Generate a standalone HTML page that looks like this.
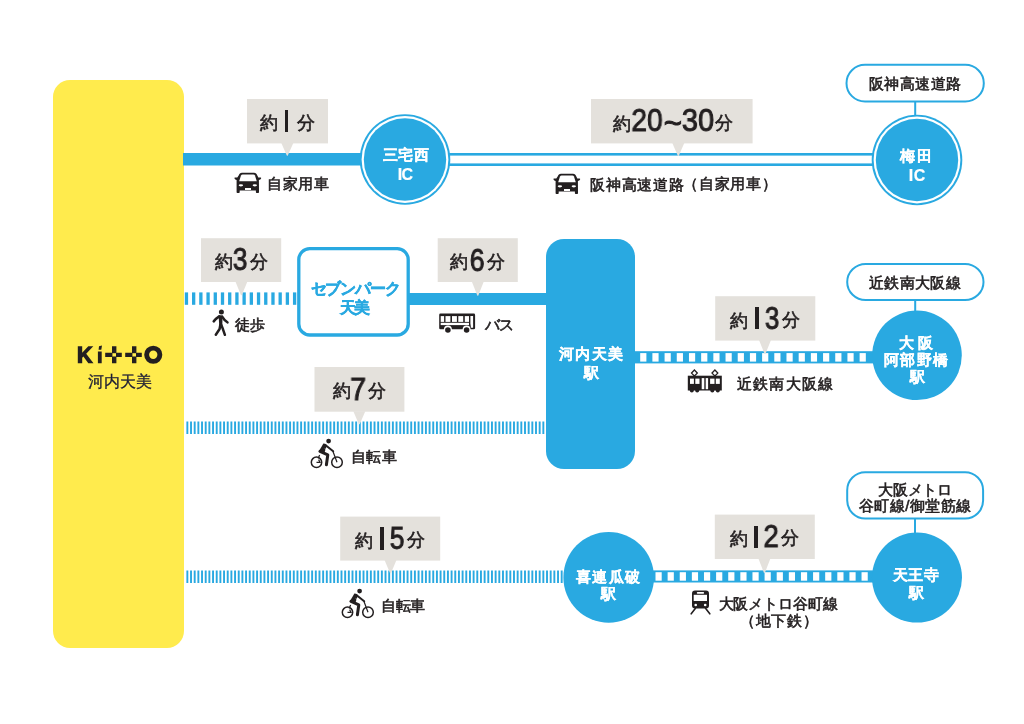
<!DOCTYPE html>
<html lang="ja"><head><meta charset="utf-8"><title>Kitto 河内天美 アクセス</title>
<style>
html,body{margin:0;padding:0;background:#fff;}
body{width:1024px;height:724px;position:relative;overflow:hidden;font-family:"Liberation Sans",sans-serif;}
.t{position:absolute;white-space:nowrap;text-align:center;will-change:transform;}
.ic{position:absolute;}
</style></head><body>
<svg style="position:absolute;left:0;top:0" width="1024" height="724" viewBox="0 0 1024 724">
<rect x="53" y="80" width="131" height="568" rx="17" fill="#ffeb4d"/>
<rect x="183" y="153" width="182" height="12.5" fill="#29a9e1"/>
<rect x="445" y="153" width="430" height="13" fill="#29a9e1"/>
<rect x="445" y="155.6" width="430" height="7.8" fill="#fff"/>
<circle cx="405" cy="159.5" r="45.3" fill="#29a9e1"/>
<circle cx="405" cy="159.5" r="43.4" fill="#fff"/>
<circle cx="405" cy="159.5" r="41.2" fill="#29a9e1"/>
<circle cx="917" cy="160" r="45.3" fill="#29a9e1"/>
<circle cx="917" cy="160" r="43.4" fill="#fff"/>
<circle cx="917" cy="160" r="41.2" fill="#29a9e1"/>
<rect x="846.5" y="64.8" width="137.29999999999995" height="36.7" rx="18.5" fill="#fff" stroke="#29a9e1" stroke-width="2"/>
<rect x="914.2" y="102" width="2" height="14" fill="#29a9e1"/>
<rect x="184.80" y="292.4" width="3.3" height="12.4" fill="#29a9e1"/>
<rect x="192.01" y="292.4" width="3.3" height="12.4" fill="#29a9e1"/>
<rect x="199.22" y="292.4" width="3.3" height="12.4" fill="#29a9e1"/>
<rect x="206.43" y="292.4" width="3.3" height="12.4" fill="#29a9e1"/>
<rect x="213.64" y="292.4" width="3.3" height="12.4" fill="#29a9e1"/>
<rect x="220.85" y="292.4" width="3.3" height="12.4" fill="#29a9e1"/>
<rect x="228.06" y="292.4" width="3.3" height="12.4" fill="#29a9e1"/>
<rect x="235.27" y="292.4" width="3.3" height="12.4" fill="#29a9e1"/>
<rect x="242.48" y="292.4" width="3.3" height="12.4" fill="#29a9e1"/>
<rect x="249.69" y="292.4" width="3.3" height="12.4" fill="#29a9e1"/>
<rect x="256.90" y="292.4" width="3.3" height="12.4" fill="#29a9e1"/>
<rect x="264.11" y="292.4" width="3.3" height="12.4" fill="#29a9e1"/>
<rect x="271.32" y="292.4" width="3.3" height="12.4" fill="#29a9e1"/>
<rect x="278.53" y="292.4" width="3.3" height="12.4" fill="#29a9e1"/>
<rect x="285.74" y="292.4" width="3.3" height="12.4" fill="#29a9e1"/>
<rect x="292.95" y="292.4" width="3.3" height="12.4" fill="#29a9e1"/>
<rect x="298.8" y="248.6" width="109.4" height="86.4" rx="11" fill="#fff" stroke="#29a9e1" stroke-width="3.3"/>
<rect x="409" y="293" width="140" height="12" fill="#29a9e1"/>
<rect x="546" y="239" width="89" height="230" rx="18" fill="#29a9e1"/>
<rect x="634" y="351.2" width="240" height="12.2" fill="#29a9e1"/>
<rect x="640.20" y="353.1" width="6.2" height="8.5" fill="#fff"/>
<rect x="652.39" y="353.1" width="6.2" height="8.5" fill="#fff"/>
<rect x="664.58" y="353.1" width="6.2" height="8.5" fill="#fff"/>
<rect x="676.77" y="353.1" width="6.2" height="8.5" fill="#fff"/>
<rect x="688.96" y="353.1" width="6.2" height="8.5" fill="#fff"/>
<rect x="701.15" y="353.1" width="6.2" height="8.5" fill="#fff"/>
<rect x="713.34" y="353.1" width="6.2" height="8.5" fill="#fff"/>
<rect x="725.53" y="353.1" width="6.2" height="8.5" fill="#fff"/>
<rect x="737.72" y="353.1" width="6.2" height="8.5" fill="#fff"/>
<rect x="749.91" y="353.1" width="6.2" height="8.5" fill="#fff"/>
<rect x="762.10" y="353.1" width="6.2" height="8.5" fill="#fff"/>
<rect x="774.29" y="353.1" width="6.2" height="8.5" fill="#fff"/>
<rect x="786.48" y="353.1" width="6.2" height="8.5" fill="#fff"/>
<rect x="798.67" y="353.1" width="6.2" height="8.5" fill="#fff"/>
<rect x="810.86" y="353.1" width="6.2" height="8.5" fill="#fff"/>
<rect x="823.05" y="353.1" width="6.2" height="8.5" fill="#fff"/>
<rect x="835.24" y="353.1" width="6.2" height="8.5" fill="#fff"/>
<rect x="847.43" y="353.1" width="6.2" height="8.5" fill="#fff"/>
<rect x="859.62" y="353.1" width="6.2" height="8.5" fill="#fff"/>
<circle cx="917" cy="355.3" r="44.8" fill="#29a9e1"/>
<rect x="847.2" y="263.9" width="136.29999999999995" height="36.200000000000045" rx="18.5" fill="#fff" stroke="#29a9e1" stroke-width="2"/>
<rect x="914.2" y="300" width="2" height="12" fill="#29a9e1"/>
<rect x="186.40" y="421.5" width="1.9" height="12.5" fill="#29a9e1"/>
<rect x="190.07" y="421.5" width="1.9" height="12.5" fill="#29a9e1"/>
<rect x="193.74" y="421.5" width="1.9" height="12.5" fill="#29a9e1"/>
<rect x="197.41" y="421.5" width="1.9" height="12.5" fill="#29a9e1"/>
<rect x="201.08" y="421.5" width="1.9" height="12.5" fill="#29a9e1"/>
<rect x="204.75" y="421.5" width="1.9" height="12.5" fill="#29a9e1"/>
<rect x="208.42" y="421.5" width="1.9" height="12.5" fill="#29a9e1"/>
<rect x="212.09" y="421.5" width="1.9" height="12.5" fill="#29a9e1"/>
<rect x="215.76" y="421.5" width="1.9" height="12.5" fill="#29a9e1"/>
<rect x="219.43" y="421.5" width="1.9" height="12.5" fill="#29a9e1"/>
<rect x="223.10" y="421.5" width="1.9" height="12.5" fill="#29a9e1"/>
<rect x="226.77" y="421.5" width="1.9" height="12.5" fill="#29a9e1"/>
<rect x="230.44" y="421.5" width="1.9" height="12.5" fill="#29a9e1"/>
<rect x="234.11" y="421.5" width="1.9" height="12.5" fill="#29a9e1"/>
<rect x="237.78" y="421.5" width="1.9" height="12.5" fill="#29a9e1"/>
<rect x="241.45" y="421.5" width="1.9" height="12.5" fill="#29a9e1"/>
<rect x="245.12" y="421.5" width="1.9" height="12.5" fill="#29a9e1"/>
<rect x="248.79" y="421.5" width="1.9" height="12.5" fill="#29a9e1"/>
<rect x="252.46" y="421.5" width="1.9" height="12.5" fill="#29a9e1"/>
<rect x="256.13" y="421.5" width="1.9" height="12.5" fill="#29a9e1"/>
<rect x="259.80" y="421.5" width="1.9" height="12.5" fill="#29a9e1"/>
<rect x="263.47" y="421.5" width="1.9" height="12.5" fill="#29a9e1"/>
<rect x="267.14" y="421.5" width="1.9" height="12.5" fill="#29a9e1"/>
<rect x="270.81" y="421.5" width="1.9" height="12.5" fill="#29a9e1"/>
<rect x="274.48" y="421.5" width="1.9" height="12.5" fill="#29a9e1"/>
<rect x="278.15" y="421.5" width="1.9" height="12.5" fill="#29a9e1"/>
<rect x="281.82" y="421.5" width="1.9" height="12.5" fill="#29a9e1"/>
<rect x="285.49" y="421.5" width="1.9" height="12.5" fill="#29a9e1"/>
<rect x="289.16" y="421.5" width="1.9" height="12.5" fill="#29a9e1"/>
<rect x="292.83" y="421.5" width="1.9" height="12.5" fill="#29a9e1"/>
<rect x="296.50" y="421.5" width="1.9" height="12.5" fill="#29a9e1"/>
<rect x="300.17" y="421.5" width="1.9" height="12.5" fill="#29a9e1"/>
<rect x="303.84" y="421.5" width="1.9" height="12.5" fill="#29a9e1"/>
<rect x="307.51" y="421.5" width="1.9" height="12.5" fill="#29a9e1"/>
<rect x="311.18" y="421.5" width="1.9" height="12.5" fill="#29a9e1"/>
<rect x="314.85" y="421.5" width="1.9" height="12.5" fill="#29a9e1"/>
<rect x="318.52" y="421.5" width="1.9" height="12.5" fill="#29a9e1"/>
<rect x="322.19" y="421.5" width="1.9" height="12.5" fill="#29a9e1"/>
<rect x="325.86" y="421.5" width="1.9" height="12.5" fill="#29a9e1"/>
<rect x="329.53" y="421.5" width="1.9" height="12.5" fill="#29a9e1"/>
<rect x="333.20" y="421.5" width="1.9" height="12.5" fill="#29a9e1"/>
<rect x="336.87" y="421.5" width="1.9" height="12.5" fill="#29a9e1"/>
<rect x="340.54" y="421.5" width="1.9" height="12.5" fill="#29a9e1"/>
<rect x="344.21" y="421.5" width="1.9" height="12.5" fill="#29a9e1"/>
<rect x="347.88" y="421.5" width="1.9" height="12.5" fill="#29a9e1"/>
<rect x="351.55" y="421.5" width="1.9" height="12.5" fill="#29a9e1"/>
<rect x="355.22" y="421.5" width="1.9" height="12.5" fill="#29a9e1"/>
<rect x="358.89" y="421.5" width="1.9" height="12.5" fill="#29a9e1"/>
<rect x="362.56" y="421.5" width="1.9" height="12.5" fill="#29a9e1"/>
<rect x="366.23" y="421.5" width="1.9" height="12.5" fill="#29a9e1"/>
<rect x="369.90" y="421.5" width="1.9" height="12.5" fill="#29a9e1"/>
<rect x="373.57" y="421.5" width="1.9" height="12.5" fill="#29a9e1"/>
<rect x="377.24" y="421.5" width="1.9" height="12.5" fill="#29a9e1"/>
<rect x="380.91" y="421.5" width="1.9" height="12.5" fill="#29a9e1"/>
<rect x="384.58" y="421.5" width="1.9" height="12.5" fill="#29a9e1"/>
<rect x="388.25" y="421.5" width="1.9" height="12.5" fill="#29a9e1"/>
<rect x="391.92" y="421.5" width="1.9" height="12.5" fill="#29a9e1"/>
<rect x="395.59" y="421.5" width="1.9" height="12.5" fill="#29a9e1"/>
<rect x="399.26" y="421.5" width="1.9" height="12.5" fill="#29a9e1"/>
<rect x="402.93" y="421.5" width="1.9" height="12.5" fill="#29a9e1"/>
<rect x="406.60" y="421.5" width="1.9" height="12.5" fill="#29a9e1"/>
<rect x="410.27" y="421.5" width="1.9" height="12.5" fill="#29a9e1"/>
<rect x="413.94" y="421.5" width="1.9" height="12.5" fill="#29a9e1"/>
<rect x="417.61" y="421.5" width="1.9" height="12.5" fill="#29a9e1"/>
<rect x="421.28" y="421.5" width="1.9" height="12.5" fill="#29a9e1"/>
<rect x="424.95" y="421.5" width="1.9" height="12.5" fill="#29a9e1"/>
<rect x="428.62" y="421.5" width="1.9" height="12.5" fill="#29a9e1"/>
<rect x="432.29" y="421.5" width="1.9" height="12.5" fill="#29a9e1"/>
<rect x="435.96" y="421.5" width="1.9" height="12.5" fill="#29a9e1"/>
<rect x="439.63" y="421.5" width="1.9" height="12.5" fill="#29a9e1"/>
<rect x="443.30" y="421.5" width="1.9" height="12.5" fill="#29a9e1"/>
<rect x="446.97" y="421.5" width="1.9" height="12.5" fill="#29a9e1"/>
<rect x="450.64" y="421.5" width="1.9" height="12.5" fill="#29a9e1"/>
<rect x="454.31" y="421.5" width="1.9" height="12.5" fill="#29a9e1"/>
<rect x="457.98" y="421.5" width="1.9" height="12.5" fill="#29a9e1"/>
<rect x="461.65" y="421.5" width="1.9" height="12.5" fill="#29a9e1"/>
<rect x="465.32" y="421.5" width="1.9" height="12.5" fill="#29a9e1"/>
<rect x="468.99" y="421.5" width="1.9" height="12.5" fill="#29a9e1"/>
<rect x="472.66" y="421.5" width="1.9" height="12.5" fill="#29a9e1"/>
<rect x="476.33" y="421.5" width="1.9" height="12.5" fill="#29a9e1"/>
<rect x="480.00" y="421.5" width="1.9" height="12.5" fill="#29a9e1"/>
<rect x="483.67" y="421.5" width="1.9" height="12.5" fill="#29a9e1"/>
<rect x="487.34" y="421.5" width="1.9" height="12.5" fill="#29a9e1"/>
<rect x="491.01" y="421.5" width="1.9" height="12.5" fill="#29a9e1"/>
<rect x="494.68" y="421.5" width="1.9" height="12.5" fill="#29a9e1"/>
<rect x="498.35" y="421.5" width="1.9" height="12.5" fill="#29a9e1"/>
<rect x="502.02" y="421.5" width="1.9" height="12.5" fill="#29a9e1"/>
<rect x="505.69" y="421.5" width="1.9" height="12.5" fill="#29a9e1"/>
<rect x="509.36" y="421.5" width="1.9" height="12.5" fill="#29a9e1"/>
<rect x="513.03" y="421.5" width="1.9" height="12.5" fill="#29a9e1"/>
<rect x="516.70" y="421.5" width="1.9" height="12.5" fill="#29a9e1"/>
<rect x="520.37" y="421.5" width="1.9" height="12.5" fill="#29a9e1"/>
<rect x="524.04" y="421.5" width="1.9" height="12.5" fill="#29a9e1"/>
<rect x="527.71" y="421.5" width="1.9" height="12.5" fill="#29a9e1"/>
<rect x="531.38" y="421.5" width="1.9" height="12.5" fill="#29a9e1"/>
<rect x="535.05" y="421.5" width="1.9" height="12.5" fill="#29a9e1"/>
<rect x="538.72" y="421.5" width="1.9" height="12.5" fill="#29a9e1"/>
<rect x="542.39" y="421.5" width="1.9" height="12.5" fill="#29a9e1"/>
<rect x="186.40" y="570.5" width="1.9" height="12.5" fill="#29a9e1"/>
<rect x="190.07" y="570.5" width="1.9" height="12.5" fill="#29a9e1"/>
<rect x="193.74" y="570.5" width="1.9" height="12.5" fill="#29a9e1"/>
<rect x="197.41" y="570.5" width="1.9" height="12.5" fill="#29a9e1"/>
<rect x="201.08" y="570.5" width="1.9" height="12.5" fill="#29a9e1"/>
<rect x="204.75" y="570.5" width="1.9" height="12.5" fill="#29a9e1"/>
<rect x="208.42" y="570.5" width="1.9" height="12.5" fill="#29a9e1"/>
<rect x="212.09" y="570.5" width="1.9" height="12.5" fill="#29a9e1"/>
<rect x="215.76" y="570.5" width="1.9" height="12.5" fill="#29a9e1"/>
<rect x="219.43" y="570.5" width="1.9" height="12.5" fill="#29a9e1"/>
<rect x="223.10" y="570.5" width="1.9" height="12.5" fill="#29a9e1"/>
<rect x="226.77" y="570.5" width="1.9" height="12.5" fill="#29a9e1"/>
<rect x="230.44" y="570.5" width="1.9" height="12.5" fill="#29a9e1"/>
<rect x="234.11" y="570.5" width="1.9" height="12.5" fill="#29a9e1"/>
<rect x="237.78" y="570.5" width="1.9" height="12.5" fill="#29a9e1"/>
<rect x="241.45" y="570.5" width="1.9" height="12.5" fill="#29a9e1"/>
<rect x="245.12" y="570.5" width="1.9" height="12.5" fill="#29a9e1"/>
<rect x="248.79" y="570.5" width="1.9" height="12.5" fill="#29a9e1"/>
<rect x="252.46" y="570.5" width="1.9" height="12.5" fill="#29a9e1"/>
<rect x="256.13" y="570.5" width="1.9" height="12.5" fill="#29a9e1"/>
<rect x="259.80" y="570.5" width="1.9" height="12.5" fill="#29a9e1"/>
<rect x="263.47" y="570.5" width="1.9" height="12.5" fill="#29a9e1"/>
<rect x="267.14" y="570.5" width="1.9" height="12.5" fill="#29a9e1"/>
<rect x="270.81" y="570.5" width="1.9" height="12.5" fill="#29a9e1"/>
<rect x="274.48" y="570.5" width="1.9" height="12.5" fill="#29a9e1"/>
<rect x="278.15" y="570.5" width="1.9" height="12.5" fill="#29a9e1"/>
<rect x="281.82" y="570.5" width="1.9" height="12.5" fill="#29a9e1"/>
<rect x="285.49" y="570.5" width="1.9" height="12.5" fill="#29a9e1"/>
<rect x="289.16" y="570.5" width="1.9" height="12.5" fill="#29a9e1"/>
<rect x="292.83" y="570.5" width="1.9" height="12.5" fill="#29a9e1"/>
<rect x="296.50" y="570.5" width="1.9" height="12.5" fill="#29a9e1"/>
<rect x="300.17" y="570.5" width="1.9" height="12.5" fill="#29a9e1"/>
<rect x="303.84" y="570.5" width="1.9" height="12.5" fill="#29a9e1"/>
<rect x="307.51" y="570.5" width="1.9" height="12.5" fill="#29a9e1"/>
<rect x="311.18" y="570.5" width="1.9" height="12.5" fill="#29a9e1"/>
<rect x="314.85" y="570.5" width="1.9" height="12.5" fill="#29a9e1"/>
<rect x="318.52" y="570.5" width="1.9" height="12.5" fill="#29a9e1"/>
<rect x="322.19" y="570.5" width="1.9" height="12.5" fill="#29a9e1"/>
<rect x="325.86" y="570.5" width="1.9" height="12.5" fill="#29a9e1"/>
<rect x="329.53" y="570.5" width="1.9" height="12.5" fill="#29a9e1"/>
<rect x="333.20" y="570.5" width="1.9" height="12.5" fill="#29a9e1"/>
<rect x="336.87" y="570.5" width="1.9" height="12.5" fill="#29a9e1"/>
<rect x="340.54" y="570.5" width="1.9" height="12.5" fill="#29a9e1"/>
<rect x="344.21" y="570.5" width="1.9" height="12.5" fill="#29a9e1"/>
<rect x="347.88" y="570.5" width="1.9" height="12.5" fill="#29a9e1"/>
<rect x="351.55" y="570.5" width="1.9" height="12.5" fill="#29a9e1"/>
<rect x="355.22" y="570.5" width="1.9" height="12.5" fill="#29a9e1"/>
<rect x="358.89" y="570.5" width="1.9" height="12.5" fill="#29a9e1"/>
<rect x="362.56" y="570.5" width="1.9" height="12.5" fill="#29a9e1"/>
<rect x="366.23" y="570.5" width="1.9" height="12.5" fill="#29a9e1"/>
<rect x="369.90" y="570.5" width="1.9" height="12.5" fill="#29a9e1"/>
<rect x="373.57" y="570.5" width="1.9" height="12.5" fill="#29a9e1"/>
<rect x="377.24" y="570.5" width="1.9" height="12.5" fill="#29a9e1"/>
<rect x="380.91" y="570.5" width="1.9" height="12.5" fill="#29a9e1"/>
<rect x="384.58" y="570.5" width="1.9" height="12.5" fill="#29a9e1"/>
<rect x="388.25" y="570.5" width="1.9" height="12.5" fill="#29a9e1"/>
<rect x="391.92" y="570.5" width="1.9" height="12.5" fill="#29a9e1"/>
<rect x="395.59" y="570.5" width="1.9" height="12.5" fill="#29a9e1"/>
<rect x="399.26" y="570.5" width="1.9" height="12.5" fill="#29a9e1"/>
<rect x="402.93" y="570.5" width="1.9" height="12.5" fill="#29a9e1"/>
<rect x="406.60" y="570.5" width="1.9" height="12.5" fill="#29a9e1"/>
<rect x="410.27" y="570.5" width="1.9" height="12.5" fill="#29a9e1"/>
<rect x="413.94" y="570.5" width="1.9" height="12.5" fill="#29a9e1"/>
<rect x="417.61" y="570.5" width="1.9" height="12.5" fill="#29a9e1"/>
<rect x="421.28" y="570.5" width="1.9" height="12.5" fill="#29a9e1"/>
<rect x="424.95" y="570.5" width="1.9" height="12.5" fill="#29a9e1"/>
<rect x="428.62" y="570.5" width="1.9" height="12.5" fill="#29a9e1"/>
<rect x="432.29" y="570.5" width="1.9" height="12.5" fill="#29a9e1"/>
<rect x="435.96" y="570.5" width="1.9" height="12.5" fill="#29a9e1"/>
<rect x="439.63" y="570.5" width="1.9" height="12.5" fill="#29a9e1"/>
<rect x="443.30" y="570.5" width="1.9" height="12.5" fill="#29a9e1"/>
<rect x="446.97" y="570.5" width="1.9" height="12.5" fill="#29a9e1"/>
<rect x="450.64" y="570.5" width="1.9" height="12.5" fill="#29a9e1"/>
<rect x="454.31" y="570.5" width="1.9" height="12.5" fill="#29a9e1"/>
<rect x="457.98" y="570.5" width="1.9" height="12.5" fill="#29a9e1"/>
<rect x="461.65" y="570.5" width="1.9" height="12.5" fill="#29a9e1"/>
<rect x="465.32" y="570.5" width="1.9" height="12.5" fill="#29a9e1"/>
<rect x="468.99" y="570.5" width="1.9" height="12.5" fill="#29a9e1"/>
<rect x="472.66" y="570.5" width="1.9" height="12.5" fill="#29a9e1"/>
<rect x="476.33" y="570.5" width="1.9" height="12.5" fill="#29a9e1"/>
<rect x="480.00" y="570.5" width="1.9" height="12.5" fill="#29a9e1"/>
<rect x="483.67" y="570.5" width="1.9" height="12.5" fill="#29a9e1"/>
<rect x="487.34" y="570.5" width="1.9" height="12.5" fill="#29a9e1"/>
<rect x="491.01" y="570.5" width="1.9" height="12.5" fill="#29a9e1"/>
<rect x="494.68" y="570.5" width="1.9" height="12.5" fill="#29a9e1"/>
<rect x="498.35" y="570.5" width="1.9" height="12.5" fill="#29a9e1"/>
<rect x="502.02" y="570.5" width="1.9" height="12.5" fill="#29a9e1"/>
<rect x="505.69" y="570.5" width="1.9" height="12.5" fill="#29a9e1"/>
<rect x="509.36" y="570.5" width="1.9" height="12.5" fill="#29a9e1"/>
<rect x="513.03" y="570.5" width="1.9" height="12.5" fill="#29a9e1"/>
<rect x="516.70" y="570.5" width="1.9" height="12.5" fill="#29a9e1"/>
<rect x="520.37" y="570.5" width="1.9" height="12.5" fill="#29a9e1"/>
<rect x="524.04" y="570.5" width="1.9" height="12.5" fill="#29a9e1"/>
<rect x="527.71" y="570.5" width="1.9" height="12.5" fill="#29a9e1"/>
<rect x="531.38" y="570.5" width="1.9" height="12.5" fill="#29a9e1"/>
<rect x="535.05" y="570.5" width="1.9" height="12.5" fill="#29a9e1"/>
<rect x="538.72" y="570.5" width="1.9" height="12.5" fill="#29a9e1"/>
<rect x="542.39" y="570.5" width="1.9" height="12.5" fill="#29a9e1"/>
<rect x="546.06" y="570.5" width="1.9" height="12.5" fill="#29a9e1"/>
<rect x="549.73" y="570.5" width="1.9" height="12.5" fill="#29a9e1"/>
<rect x="553.40" y="570.5" width="1.9" height="12.5" fill="#29a9e1"/>
<rect x="557.07" y="570.5" width="1.9" height="12.5" fill="#29a9e1"/>
<rect x="560.74" y="570.5" width="1.9" height="12.5" fill="#29a9e1"/>
<rect x="650" y="570.4" width="224" height="12.1" fill="#29a9e1"/>
<rect x="655.50" y="572.2" width="6.2" height="8.5" fill="#fff"/>
<rect x="667.62" y="572.2" width="6.2" height="8.5" fill="#fff"/>
<rect x="679.74" y="572.2" width="6.2" height="8.5" fill="#fff"/>
<rect x="691.86" y="572.2" width="6.2" height="8.5" fill="#fff"/>
<rect x="703.98" y="572.2" width="6.2" height="8.5" fill="#fff"/>
<rect x="716.10" y="572.2" width="6.2" height="8.5" fill="#fff"/>
<rect x="728.22" y="572.2" width="6.2" height="8.5" fill="#fff"/>
<rect x="740.34" y="572.2" width="6.2" height="8.5" fill="#fff"/>
<rect x="752.46" y="572.2" width="6.2" height="8.5" fill="#fff"/>
<rect x="764.58" y="572.2" width="6.2" height="8.5" fill="#fff"/>
<rect x="776.70" y="572.2" width="6.2" height="8.5" fill="#fff"/>
<rect x="788.82" y="572.2" width="6.2" height="8.5" fill="#fff"/>
<rect x="800.94" y="572.2" width="6.2" height="8.5" fill="#fff"/>
<rect x="813.06" y="572.2" width="6.2" height="8.5" fill="#fff"/>
<rect x="825.18" y="572.2" width="6.2" height="8.5" fill="#fff"/>
<rect x="837.30" y="572.2" width="6.2" height="8.5" fill="#fff"/>
<rect x="849.42" y="572.2" width="6.2" height="8.5" fill="#fff"/>
<rect x="861.54" y="572.2" width="6.2" height="8.5" fill="#fff"/>
<circle cx="608.7" cy="577.4" r="45.3" fill="#29a9e1"/>
<circle cx="917" cy="577.6" r="45" fill="#29a9e1"/>
<rect x="847.2" y="472.2" width="135.89999999999998" height="46.400000000000034" rx="18" fill="#fff" stroke="#29a9e1" stroke-width="2"/>
<rect x="914" y="518.6" width="2" height="15" fill="#29a9e1"/>
<rect x="247" y="99" width="81" height="44.400000000000006" fill="#e4e1dc"/>
<path d="M281.3 142.9 L293.3 142.9 L287.8 155.5 Q287.3 156.10000000000002 286.8 155.5 Z" fill="#e4e1dc"/>
<rect x="591" y="99" width="161.60000000000002" height="44.400000000000006" fill="#e4e1dc"/>
<path d="M672.3 142.9 L684.3 142.9 L678.8 155.7 Q678.3 156.3 677.8 155.7 Z" fill="#e4e1dc"/>
<rect x="201" y="238.2" width="80.19999999999999" height="43.80000000000001" fill="#e4e1dc"/>
<path d="M235.4 281.5 L247.4 281.5 L241.9 294.9 Q241.4 295.5 240.9 294.9 Z" fill="#e4e1dc"/>
<rect x="437.7" y="238.2" width="80.09999999999997" height="43.80000000000001" fill="#e4e1dc"/>
<path d="M471.8 281.5 L483.8 281.5 L478.3 295.4 Q477.8 296.0 477.3 295.4 Z" fill="#e4e1dc"/>
<rect x="715.2" y="296.2" width="100.09999999999991" height="44.400000000000034" fill="#e4e1dc"/>
<path d="M759 340.1 L771 340.1 L765.5 353.7 Q765 354.3 764.5 353.7 Z" fill="#e4e1dc"/>
<rect x="314.5" y="367" width="89.89999999999998" height="44.69999999999999" fill="#e4e1dc"/>
<path d="M353.3 411.2 L365.3 411.2 L359.8 424.0 Q359.3 424.6 358.8 424.0 Z" fill="#e4e1dc"/>
<rect x="340.2" y="516.6" width="100.0" height="44.0" fill="#e4e1dc"/>
<path d="M384.5 560.1 L396.5 560.1 L391.0 572.9000000000001 Q390.5 573.5 390.0 572.9000000000001 Z" fill="#e4e1dc"/>
<rect x="714.8" y="514.6" width="100.0" height="44.39999999999998" fill="#e4e1dc"/>
<path d="M758.4 558.5 L770.4 558.5 L764.9 572.7 Q764.4 573.3 763.9 572.7 Z" fill="#e4e1dc"/>
</svg>
<div class="t" style="left:205.87px;top:145.48px;width:400px;font-size:15px;line-height:20px;font-weight:700;color:#fff;-webkit-text-stroke:0.2px #fff;letter-spacing:0.270px;padding-left:0.270px;box-sizing:border-box;">三宅西</div>
<div class="t" style="left:205.13px;top:164.98px;width:400px;font-size:16px;line-height:20px;font-weight:700;color:#fff;-webkit-text-stroke:0.2px #fff;letter-spacing:-0.660px;padding-left:-0.660px;box-sizing:border-box;">IC</div>
<div class="t" style="left:716.28px;top:145.94px;width:400px;font-size:15px;line-height:20px;font-weight:700;color:#fff;-webkit-text-stroke:0.2px #fff;letter-spacing:1.320px;padding-left:1.320px;box-sizing:border-box;">梅田</div>
<div class="t" style="left:716.72px;top:165.59px;width:400px;font-size:16px;line-height:20px;font-weight:700;color:#fff;-webkit-text-stroke:0.2px #fff;letter-spacing:0.560px;padding-left:0.560px;box-sizing:border-box;">IC</div>
<div class="t" style="left:390.87px;top:344.49px;width:400px;font-size:15px;line-height:20px;font-weight:700;color:#fff;-webkit-text-stroke:0.2px #fff;letter-spacing:1.060px;padding-left:1.060px;box-sizing:border-box;">河内天美</div>
<div class="t" style="left:390.80px;top:362.87px;width:400px;font-size:15px;line-height:20px;font-weight:700;color:#fff;-webkit-text-stroke:0.2px #fff;">駅</div>
<div class="t" style="left:715.63px;top:333.27px;width:400px;font-size:15px;line-height:20px;font-weight:700;color:#fff;-webkit-text-stroke:0.2px #fff;letter-spacing:3.180px;padding-left:3.180px;box-sizing:border-box;">大阪</div>
<div class="t" style="left:716.33px;top:350.30px;width:400px;font-size:15px;line-height:20px;font-weight:700;color:#fff;-webkit-text-stroke:0.2px #fff;letter-spacing:1.500px;padding-left:1.500px;box-sizing:border-box;">阿部野橋</div>
<div class="t" style="left:716.55px;top:367.45px;width:400px;font-size:15px;line-height:20px;font-weight:700;color:#fff;-webkit-text-stroke:0.2px #fff;">駅</div>
<div class="t" style="left:408.00px;top:566.58px;width:400px;font-size:15px;line-height:20px;font-weight:700;color:#fff;-webkit-text-stroke:0.2px #fff;letter-spacing:1.067px;padding-left:1.067px;box-sizing:border-box;">喜連瓜破</div>
<div class="t" style="left:408.47px;top:583.63px;width:400px;font-size:15px;line-height:20px;font-weight:700;color:#fff;-webkit-text-stroke:0.2px #fff;">駅</div>
<div class="t" style="left:716.06px;top:564.99px;width:400px;font-size:15px;line-height:20px;font-weight:700;color:#fff;-webkit-text-stroke:0.2px #fff;letter-spacing:0.400px;padding-left:0.400px;box-sizing:border-box;">天王寺</div>
<div class="t" style="left:716.06px;top:583.47px;width:400px;font-size:15px;line-height:20px;font-weight:700;color:#fff;-webkit-text-stroke:0.2px #fff;">駅</div>
<div class="t" style="left:154.50px;top:279.38px;width:400px;font-size:15.5px;line-height:20px;font-weight:700;color:#29a9e1;-webkit-text-stroke:0.45px #29a9e1;letter-spacing:-1.240px;padding-left:-1.240px;box-sizing:border-box;">セブンパーク</div>
<div class="t" style="left:153.81px;top:297.85px;width:400px;font-size:15.5px;line-height:20px;font-weight:700;color:#29a9e1;-webkit-text-stroke:0.45px #29a9e1;letter-spacing:-2.100px;padding-left:-2.100px;box-sizing:border-box;">天美</div>
<div class="t" style="left:715.04px;top:73.78px;width:400px;font-size:15px;line-height:20px;font-weight:400;color:#231f20;-webkit-text-stroke:0.6px #231f20;letter-spacing:0.388px;padding-left:0.388px;box-sizing:border-box;">阪神高速道路</div>
<div class="t" style="left:715.17px;top:272.55px;width:400px;font-size:15px;line-height:20px;font-weight:400;color:#231f20;-webkit-text-stroke:0.6px #231f20;letter-spacing:0.336px;padding-left:0.336px;box-sizing:border-box;">近鉄南大阪線</div>
<div class="t" style="left:715.12px;top:479.53px;width:400px;font-size:15px;line-height:20px;font-weight:400;color:#231f20;-webkit-text-stroke:0.6px #231f20;letter-spacing:-0.400px;padding-left:-0.400px;box-sizing:border-box;">大阪メトロ</div>
<div class="t" style="left:714.50px;top:495.81px;width:400px;font-size:15px;line-height:20px;font-weight:400;color:#231f20;-webkit-text-stroke:0.6px #231f20;letter-spacing:0.460px;padding-left:0.460px;box-sizing:border-box;">谷町線/御堂筋線</div>
<div class="t" style="left:98.28px;top:173.61px;width:400px;font-size:15px;line-height:20px;font-weight:400;color:#231f20;-webkit-text-stroke:0.6px #231f20;letter-spacing:0.493px;padding-left:0.493px;box-sizing:border-box;">自家用車</div>
<div class="t" style="left:437.00px;top:175.12px;width:400px;font-size:15px;line-height:20px;font-weight:400;color:#231f20;-webkit-text-stroke:0.6px #231f20;letter-spacing:0.864px;padding-left:0.864px;box-sizing:border-box;">阪神高速道路</div>
<div class="t" style="left:529.54px;top:174.42px;width:400px;font-size:15px;line-height:20px;font-weight:400;color:#231f20;-webkit-text-stroke:0.6px #231f20;letter-spacing:0.644px;padding-left:0.644px;box-sizing:border-box;">（自家用車）</div>
<div class="t" style="left:50.05px;top:314.50px;width:400px;font-size:15px;line-height:20px;font-weight:400;color:#231f20;-webkit-text-stroke:0.6px #231f20;letter-spacing:0.300px;padding-left:0.300px;box-sizing:border-box;">徒歩</div>
<div class="t" style="left:298.75px;top:314.51px;width:400px;font-size:15px;line-height:20px;font-weight:400;color:#231f20;-webkit-text-stroke:0.6px #231f20;letter-spacing:-0.500px;padding-left:-0.500px;box-sizing:border-box;">バス</div>
<div class="t" style="left:585.00px;top:374.33px;width:400px;font-size:15px;line-height:20px;font-weight:400;color:#231f20;-webkit-text-stroke:0.6px #231f20;letter-spacing:1.060px;padding-left:1.060px;box-sizing:border-box;">近鉄南大阪線</div>
<div class="t" style="left:174.42px;top:446.51px;width:400px;font-size:15px;line-height:20px;font-weight:400;color:#231f20;-webkit-text-stroke:0.6px #231f20;letter-spacing:0.600px;padding-left:0.600px;box-sizing:border-box;">自転車</div>
<div class="t" style="left:202.75px;top:595.50px;width:400px;font-size:15px;line-height:20px;font-weight:400;color:#231f20;-webkit-text-stroke:0.6px #231f20;letter-spacing:-0.330px;padding-left:-0.330px;box-sizing:border-box;">自転車</div>
<div class="t" style="left:577.81px;top:593.82px;width:400px;font-size:15px;line-height:20px;font-weight:400;color:#231f20;-webkit-text-stroke:0.6px #231f20;letter-spacing:-0.154px;padding-left:-0.154px;box-sizing:border-box;">大阪メトロ谷町線</div>
<div class="t" style="left:578.51px;top:611.34px;width:400px;font-size:15px;line-height:20px;font-weight:400;color:#231f20;-webkit-text-stroke:0.6px #231f20;letter-spacing:0.595px;padding-left:0.595px;box-sizing:border-box;">（地下鉄）</div>
<div class="t" style="left:69.24px;top:113.17px;width:400px;font-size:18px;line-height:20px;font-weight:400;color:#231f20;-webkit-text-stroke:0.6px #231f20;">約</div>
<div style="position:absolute;left:284.8px;top:109.7px;width:3.60px;height:22.10px;background:#231f20"></div>
<div class="t" style="left:105.58px;top:113.47px;width:400px;font-size:18px;line-height:20px;font-weight:400;color:#231f20;-webkit-text-stroke:0.6px #231f20;">分</div>
<div class="t" style="left:421.98px;top:113.55px;width:400px;font-size:18px;line-height:20px;font-weight:400;color:#231f20;-webkit-text-stroke:0.6px #231f20;">約</div>
<div class="t" style="left:446.79px;top:103.36px;width:400px;font-size:31px;line-height:36px;font-weight:400;color:#231f20;-webkit-text-stroke:1.0px #231f20;transform:scaleX(0.9065);transform-origin:50% 50%;">20</div>
<div class="t" style="left:472.50px;top:106.44px;width:400px;font-size:31px;line-height:36px;font-weight:400;color:#231f20;-webkit-text-stroke:1.0px #231f20;transform:scaleX(1.0088);transform-origin:50% 50%;">~</div>
<div class="t" style="left:497.84px;top:103.36px;width:400px;font-size:31px;line-height:36px;font-weight:400;color:#231f20;-webkit-text-stroke:1.0px #231f20;transform:scaleX(0.9373);transform-origin:50% 50%;">30</div>
<div class="t" style="left:523.63px;top:113.05px;width:400px;font-size:18px;line-height:20px;font-weight:400;color:#231f20;-webkit-text-stroke:0.6px #231f20;">分</div>
<div class="t" style="left:23.65px;top:252.09px;width:400px;font-size:18px;line-height:20px;font-weight:400;color:#231f20;-webkit-text-stroke:0.6px #231f20;">約</div>
<div class="t" style="left:39.83px;top:242.41px;width:400px;font-size:31px;line-height:36px;font-weight:400;color:#231f20;-webkit-text-stroke:1.0px #231f20;transform:scaleX(0.8368);transform-origin:50% 50%;">3</div>
<div class="t" style="left:58.50px;top:251.69px;width:400px;font-size:18px;line-height:20px;font-weight:400;color:#231f20;-webkit-text-stroke:0.6px #231f20;">分</div>
<div class="t" style="left:259.44px;top:252.09px;width:400px;font-size:18px;line-height:20px;font-weight:400;color:#231f20;-webkit-text-stroke:0.6px #231f20;">約</div>
<div class="t" style="left:277.11px;top:242.80px;width:400px;font-size:31px;line-height:36px;font-weight:400;color:#231f20;-webkit-text-stroke:1.0px #231f20;transform:scaleX(0.8645);transform-origin:50% 50%;">6</div>
<div class="t" style="left:295.56px;top:251.69px;width:400px;font-size:18px;line-height:20px;font-weight:400;color:#231f20;-webkit-text-stroke:0.6px #231f20;">分</div>
<div class="t" style="left:539.42px;top:310.56px;width:400px;font-size:18px;line-height:20px;font-weight:400;color:#231f20;-webkit-text-stroke:0.6px #231f20;">約</div>
<div style="position:absolute;left:754.7px;top:307.1px;width:4.50px;height:22.10px;background:#231f20"></div>
<div class="t" style="left:571.73px;top:300.50px;width:400px;font-size:31px;line-height:36px;font-weight:400;color:#231f20;-webkit-text-stroke:1.0px #231f20;transform:scaleX(0.8257);transform-origin:50% 50%;">3</div>
<div class="t" style="left:591.44px;top:310.06px;width:400px;font-size:18px;line-height:20px;font-weight:400;color:#231f20;-webkit-text-stroke:0.6px #231f20;">分</div>
<div class="t" style="left:141.76px;top:381.31px;width:400px;font-size:18px;line-height:20px;font-weight:400;color:#231f20;-webkit-text-stroke:0.6px #231f20;">約</div>
<div class="t" style="left:158.41px;top:371.50px;width:400px;font-size:31px;line-height:36px;font-weight:400;color:#231f20;-webkit-text-stroke:1.0px #231f20;transform:scaleX(0.9275);transform-origin:50% 50%;">7</div>
<div class="t" style="left:177.44px;top:380.91px;width:400px;font-size:18px;line-height:20px;font-weight:400;color:#231f20;-webkit-text-stroke:0.6px #231f20;">分</div>
<div class="t" style="left:164.42px;top:530.62px;width:400px;font-size:18px;line-height:20px;font-weight:400;color:#231f20;-webkit-text-stroke:0.6px #231f20;">約</div>
<div style="position:absolute;left:380.1px;top:527.4px;width:4.30px;height:22.30px;background:#231f20"></div>
<div class="t" style="left:197.36px;top:521.17px;width:400px;font-size:31px;line-height:36px;font-weight:400;color:#231f20;-webkit-text-stroke:1.0px #231f20;transform:scaleX(0.8429);transform-origin:50% 50%;">5</div>
<div class="t" style="left:216.44px;top:530.12px;width:400px;font-size:18px;line-height:20px;font-weight:400;color:#231f20;-webkit-text-stroke:0.6px #231f20;">分</div>
<div class="t" style="left:538.50px;top:528.94px;width:400px;font-size:18px;line-height:20px;font-weight:400;color:#231f20;-webkit-text-stroke:0.6px #231f20;">約</div>
<div style="position:absolute;left:753.9px;top:525.5px;width:4.00px;height:22.20px;background:#231f20"></div>
<div class="t" style="left:571.31px;top:519.24px;width:400px;font-size:31px;line-height:36px;font-weight:400;color:#231f20;-webkit-text-stroke:1.0px #231f20;transform:scaleX(0.8892);transform-origin:50% 50%;">2</div>
<div class="t" style="left:590.02px;top:528.44px;width:400px;font-size:18px;line-height:20px;font-weight:400;color:#231f20;-webkit-text-stroke:0.6px #231f20;">分</div>
<div class="t" style="left:-80.38px;top:371.58px;width:400px;font-size:15.5px;line-height:20px;font-weight:400;color:#1d1d35;-webkit-text-stroke:0.3px #1d1d35;letter-spacing:-0.187px;padding-left:-0.187px;box-sizing:border-box;">河内天美</div>
<svg class="ic" style="left:230px;top:168px" width="36" height="30" viewBox="0 0 36 30">
<path d="M12 4.8 H24 C25.8 4.8 26.6 5.8 27.2 7.2 L28.3 9.4 L30.6 9.5 Q31.4 9.7 31.1 10.6 L30.3 11.6 L28.9 11.9 L29 22.4 V24.2 Q29 25 28.2 25 H26.7 Q25.9 25 25.9 24.2 V22.5 H9.7 V24.2 Q9.7 25 8.9 25 H7.4 Q6.6 25 6.6 24.2 V11.9 L5.3 11.6 L4.5 10.6 Q4.2 9.7 5 9.5 L7.3 9.4 L8.8 7.2 C9.4 5.8 10.2 4.8 12 4.8 Z" fill="#231f20"/>
<path d="M12.6 6.4 H23.4 Q24.5 6.4 25 7.5 L26.8 13.2 H9.2 L11 7.5 Q11.5 6.4 12.6 6.4 Z" fill="#fff"/>
<ellipse cx="10.9" cy="17.3" rx="2.2" ry="1.1" fill="#fff"/>
<ellipse cx="24.8" cy="17.3" rx="2.2" ry="1.1" fill="#fff"/>
<rect x="15" y="20" width="6" height="2" fill="#fff"/>
</svg>
<svg class="ic" style="left:548.5px;top:168.5px" width="36" height="30" viewBox="0 0 36 30">
<path d="M12 4.8 H24 C25.8 4.8 26.6 5.8 27.2 7.2 L28.3 9.4 L30.6 9.5 Q31.4 9.7 31.1 10.6 L30.3 11.6 L28.9 11.9 L29 22.4 V24.2 Q29 25 28.2 25 H26.7 Q25.9 25 25.9 24.2 V22.5 H9.7 V24.2 Q9.7 25 8.9 25 H7.4 Q6.6 25 6.6 24.2 V11.9 L5.3 11.6 L4.5 10.6 Q4.2 9.7 5 9.5 L7.3 9.4 L8.8 7.2 C9.4 5.8 10.2 4.8 12 4.8 Z" fill="#231f20"/>
<path d="M12.6 6.4 H23.4 Q24.5 6.4 25 7.5 L26.8 13.2 H9.2 L11 7.5 Q11.5 6.4 12.6 6.4 Z" fill="#fff"/>
<ellipse cx="10.9" cy="17.3" rx="2.2" ry="1.1" fill="#fff"/>
<ellipse cx="24.8" cy="17.3" rx="2.2" ry="1.1" fill="#fff"/>
<rect x="15" y="20" width="6" height="2" fill="#fff"/>
</svg>
<svg class="ic" style="left:206px;top:304px" width="30" height="36" viewBox="0 0 30 36">
<circle cx="15.4" cy="7.9" r="2.5" fill="#231f20"/>
<path d="M12.6 11.6 Q14.5 10.9 16.6 11.7 L16.3 21.6 L13.2 21.6 Z" fill="#231f20"/>
<path d="M13.2 12.4 Q10.4 14.2 7.7 17.4 M16.2 12.6 L18.6 16 L21.5 18.4 M14.3 21 L13.6 25 L9.8 30.8 M15.3 21 L17 25.3 L18.9 30.8" fill="none" stroke="#231f20" stroke-width="2.5" stroke-linecap="round" stroke-linejoin="round"/>
</svg>
<svg class="ic" style="left:434px;top:308px" width="46" height="30" viewBox="0 0 46 30">
<rect x="5.2" y="5.6" width="35.9" height="15.7" rx="1.3" fill="#231f20"/>
<rect x="6.7" y="8.1" width="3.4" height="5.8" fill="#fff"/>
<rect x="11.5" y="8.1" width="4.9" height="5.8" fill="#fff"/>
<rect x="18" y="8.1" width="4.9" height="5.8" fill="#fff"/>
<rect x="24.3" y="8.1" width="4.9" height="5.8" fill="#fff"/>
<rect x="30.8" y="8.1" width="4.2" height="5.8" fill="#fff"/>
<path d="M36.4 8.1 H39.1 V19.8 H37 L36.4 15.5 Z" fill="#fff"/>
<rect x="6.7" y="14.8" width="28.3" height="2.3" fill="#fff"/>
<circle cx="13.9" cy="21.6" r="4" fill="#fff"/>
<circle cx="32.6" cy="21.6" r="4" fill="#fff"/>
<circle cx="13.9" cy="22" r="2.8" fill="#231f20"/>
<circle cx="32.6" cy="22" r="2.8" fill="#231f20"/>
</svg>
<svg class="ic" style="left:684px;top:364px" width="42" height="32" viewBox="0 0 42 32">
<path d="M10.4 6 L13.3 9.1 L10.4 12 L7.5 9.1 Z M30.9 6 L33.8 9.1 L30.9 12 L28 9.1 Z" fill="none" stroke="#231f20" stroke-width="1.3"/>
<rect x="3.8" y="11.7" width="34" height="14.8" fill="#231f20"/>
<circle cx="7.8" cy="26.6" r="2" fill="#231f20"/><circle cx="13.2" cy="26.6" r="2" fill="#231f20"/>
<circle cx="28.3" cy="26.6" r="2" fill="#231f20"/><circle cx="33.8" cy="26.6" r="2" fill="#231f20"/>
<rect x="6" y="14.6" width="3.9" height="5.3" fill="#fff"/>
<rect x="11.3" y="14.6" width="4.2" height="5.3" fill="#fff"/>
<rect x="26.1" y="14.6" width="4.4" height="5.3" fill="#fff"/>
<rect x="31.8" y="14.6" width="4" height="5.3" fill="#fff"/>
<rect x="17.7" y="14.1" width="2.6" height="11.1" fill="#fff"/>
<rect x="21.7" y="14.1" width="2.4" height="11.1" fill="#fff"/>
</svg>
<svg class="ic" style="left:306px;top:434px" width="42" height="38" viewBox="0 0 42 38">
<circle cx="22.6" cy="7.1" r="2.4" fill="#231f20"/>
<circle cx="10.5" cy="28.3" r="5.2" fill="none" stroke="#231f20" stroke-width="1.5"/>
<circle cx="31" cy="28.3" r="5.3" fill="none" stroke="#231f20" stroke-width="1.5"/>
<path d="M17.4 9.6 Q20 9.4 21 11.3 L18.6 18.2 L17.6 19.6 L12.6 17.8 Z" fill="#231f20"/>
<path d="M20 11.5 L27.2 17.3" stroke="#231f20" stroke-width="2" stroke-linecap="round"/>
<path d="M14 17.4 L21.8 20.8 L20.4 30.8" fill="none" stroke="#231f20" stroke-width="3" stroke-linecap="round" stroke-linejoin="round"/>
<path d="M18.8 14.6 L22.6 17.3" stroke="#fff" stroke-width="0.8"/>
<path d="M27 17.5 L31 28.3 M13.6 21 L12.2 24.5 M10.5 28.3 H14 L12.6 25.6" fill="none" stroke="#231f20" stroke-width="1.2"/>
</svg>
<svg class="ic" style="left:336.5px;top:583.5px" width="42" height="38" viewBox="0 0 42 38">
<circle cx="22.6" cy="7.1" r="2.4" fill="#231f20"/>
<circle cx="10.5" cy="28.3" r="5.2" fill="none" stroke="#231f20" stroke-width="1.5"/>
<circle cx="31" cy="28.3" r="5.3" fill="none" stroke="#231f20" stroke-width="1.5"/>
<path d="M17.4 9.6 Q20 9.4 21 11.3 L18.6 18.2 L17.6 19.6 L12.6 17.8 Z" fill="#231f20"/>
<path d="M20 11.5 L27.2 17.3" stroke="#231f20" stroke-width="2" stroke-linecap="round"/>
<path d="M14 17.4 L21.8 20.8 L20.4 30.8" fill="none" stroke="#231f20" stroke-width="3" stroke-linecap="round" stroke-linejoin="round"/>
<path d="M18.8 14.6 L22.6 17.3" stroke="#fff" stroke-width="0.8"/>
<path d="M27 17.5 L31 28.3 M13.6 21 L12.2 24.5 M10.5 28.3 H14 L12.6 25.6" fill="none" stroke="#231f20" stroke-width="1.2"/>
</svg>
<svg class="ic" style="left:686px;top:586px" width="30" height="32" viewBox="0 0 30 32">
<rect x="6" y="4.4" width="17" height="18.1" rx="3" fill="#231f20"/>
<rect x="10.8" y="6" width="7.3" height="1.7" rx="0.8" fill="#fff"/>
<rect x="7.7" y="8.8" width="13.3" height="6.2" fill="#fff"/>
<circle cx="9.7" cy="19" r="1.3" fill="#fff"/>
<circle cx="19.2" cy="19" r="1.3" fill="#fff"/>
<path d="M9.5 22.3 L5.2 27.8 M19.5 22.3 L23.8 27.8" stroke="#231f20" stroke-width="1.6" stroke-linecap="round"/>
</svg>
<svg class="ic" style="left:70px;top:335px" width="100" height="60" viewBox="0 0 100 60">
<path d="M7.8 11.3 H12.2 V17.8 L18.3 11.3 H23.3 L16.2 18.7 L23.5 28.3 H18.3 L13.4 21.6 L12.2 22.8 V28.3 H7.8 Z" fill="#231f20"/>
<path d="M27.9 16.5 H31.7 V28.3 H27.9 Z M29 11.3 L32 10.5 L31.3 14.8 L28.6 14.8 Z" fill="#231f20"/>
<path d="M42 11.3 H46.4 V17.8 H51.8 V21.9 H46.4 V28.3 H42 V21.9 H35.2 V17.8 H42 Z" fill="#231f20"/>
<path d="M62 11.3 H66.4 V17.8 H71.8 V21.9 H66.4 V28.3 H62 V21.9 H55.2 V17.8 H62 Z" fill="#231f20"/>
<rect x="42.4" y="18.2" width="3.6" height="3.3" fill="#ffeb4d"/>
<rect x="62.4" y="18.2" width="3.6" height="3.3" fill="#ffeb4d"/>
<circle cx="83.25" cy="19.75" r="6.6" fill="none" stroke="#231f20" stroke-width="4.9"/>
</svg>
</body></html>
